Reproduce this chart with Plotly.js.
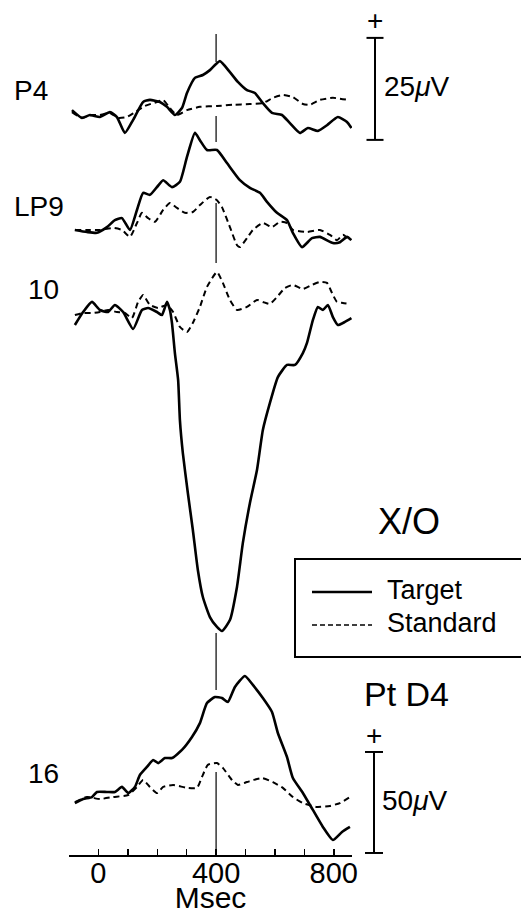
<!DOCTYPE html>
<html>
<head>
<meta charset="utf-8">
<script src="https://cdn.plot.ly/plotly-3.0.1.min.js"></script>
<style>html,body{margin:0;padding:0;background:#fff;}#chart{width:521px;height:914px;}</style>
</head>
<body>
<div id="chart"></div>
<script>
// ---------- DATA (time in ms, amplitude in µV relative to baseline) ----------
const channelNames = ["P4", "LP9", "10", "16"];

const p4TargetMs = [-90,-56,-29,5,39,63,90,118,152,175,209,233,260,284,301,328,355,379,413,447,474,505,532,559,590,624,651,685,712,746,777,814,845,860];
const p4TargetUv = [1.2,-0.7,0,-0.5,0.7,-0.5,-4.4,-1.2,3.2,3.7,3.2,2.0,0,1.7,5.4,9.1,9.8,11.0,13.2,10.5,8.1,6.1,5.4,2.9,0.5,0,-2.0,-4.4,-3.2,-3.9,-2.5,-0.5,-1.7,-3.2];
const p4StandardMs = [-90,-56,-22,5,39,67,97,124,158,199,220,243,267,301,345,403,457,515,559,593,627,661,695,719,753,797,848];
const p4StandardUv = [0.7,-0.7,0,0,0.5,-0.7,-0.5,0.7,2.2,3.2,3.7,1.7,0,1.2,2.0,2.2,2.5,2.7,2.9,4.2,4.9,4.4,2.7,2.5,3.7,4.2,3.7];

const lp9TargetMs = [-80,-39,-5,29,56,80,107,131,152,175,199,220,250,277,301,328,345,369,403,437,481,515,549,573,607,641,661,692,726,753,797,821,845,860];
const lp9TargetUv = [0.5,0,-0.2,1.2,2.9,3.4,0.5,5.4,9.6,9.1,11.0,12.7,11.0,12.3,18.4,24.3,22.5,20.1,20.1,16.9,12.7,10.8,9.6,7.4,4.7,2.9,-0.2,-3.7,-1.5,-1.2,-2.7,-2.5,-1.2,-2.0];
const lp9StandardMs = [-80,-39,5,50,80,107,131,148,169,192,220,243,267,294,321,345,379,403,420,447,471,481,508,525,559,590,617,641,661,709,753,787,811,831,855];
const lp9StandardUv = [0.5,0.5,0.5,1.0,0.5,-1.2,2.2,4.7,3.4,2.5,5.4,7.1,5.9,4.7,4.9,6.6,8.6,7.8,6.1,1.2,-3.2,-3.7,-1.2,0.5,2.2,1.2,2.5,2.2,0.5,0,0.5,-0.7,-2.0,-0.7,-2.0];

const c10TargetMs = [-80,-52,-22,5,33,56,84,118,148,169,199,216,233,243,250,260,271,277,287,304,321,338,355,379,403,420,447,471,491,515,539,559,583,610,641,668,695,709,729,746,763,780,797,814,838,860];
const c10TargetUv = [-7.4,-1.0,4.0,0,-1.0,2.5,-1.0,-9.4,0,1.0,-1.0,-2.5,4.0,0,-6.4,-21.3,-34.7,-54.5,-70.8,-90.6,-108.9,-128.7,-142.1,-152.0,-156.9,-158.9,-153.5,-137.1,-115.3,-95.5,-79.2,-59.4,-46.0,-33.2,-27.2,-27.2,-21.3,-16.3,-5.0,1.5,0,2.5,-3.5,-7.4,-5.9,-4.0];
const c10StandardMs = [-80,-52,-18,5,33,63,90,114,135,152,175,203,233,254,277,301,321,345,369,403,423,447,471,505,539,559,583,607,634,661,695,726,753,777,794,811,831,855];
const c10StandardUv = [-2.5,-1.5,-1.5,-1.0,0,-1.0,-1.5,-4.0,4.0,7.4,2.5,1.0,2.5,-1.0,-8.4,-10.9,-6.4,1.5,11.4,18.8,13.4,5.0,0,1.5,5.0,4.0,3.0,6.4,10.9,12.4,10.4,12.4,13.9,13.4,8.4,4.0,3.5,3.0];

const c16TargetMs = [-80,-52,-22,-5,29,56,80,101,124,141,165,186,203,226,250,284,318,345,369,396,420,440,464,498,525,559,590,610,641,661,695,729,763,797,828,855];
const c16TargetUv = [-4.0,-2.0,-1.0,1.5,1.5,1.5,4.0,1.0,4.0,9.9,13.9,17.3,15.8,18.3,18.3,22.3,28.7,35.6,45.5,48.5,48.0,46.0,53.5,58.9,54.5,48.0,41.1,30.7,18.8,8.4,1.0,-7.4,-15.8,-22.3,-18.3,-15.8];
const c16StandardMs = [-80,-39,5,50,101,131,152,175,199,220,254,301,335,352,372,403,423,454,474,505,556,593,627,661,695,743,787,821,855];
const c16StandardUv = [-3.5,-1.0,-2.0,-1.0,0,4.0,7.4,4.0,1.0,4.0,5.0,3.5,3.5,8.9,14.9,15.8,13.4,7.4,5.0,6.4,8.4,6.4,3.5,-1.0,-4.0,-5.9,-5.4,-4.0,-1.0];

const tickValues = [-100,0,100,200,300,400,500,600,700,800];
const tickLabels = ["","0","","","","400","","","","800"];
const seriesNames = ["Target", "Standard"];

// ---------- LAYOUT HELPERS ----------
const W = 521, H = 914, ML = 69, MR = 169, MT = 0, MB = 59;
const PW = W - ML - MR, PH = H - MT - MB;
const px = p => (p - ML) / PW;          // pixel x -> paper x
const py = p => (PH + MT - p) / PH;     // pixel y -> paper y
const FONT = "Liberation Sans, Arial, Helvetica, sans-serif";

// channel baseline pixel & gain (px per µV) -> y-axis range
const chan = [
  {base: 115, gain: 4.08},  // P4   (25 µV scale)
  {base: 232, gain: 4.08},  // LP9
  {base: 310, gain: 2.02},  // 10   (50 µV scale)
  {base: 795, gain: 2.02}   // 16
];
const yRange = c => [(c.base - (MT + PH)) / c.gain, (c.base - MT) / c.gain];

const solid = {color: "#000", width: 2.6, shape: "spline", smoothing: 0.5};
const dashed = {color: "#000", width: 2, dash: "6px,4px", shape: "spline", smoothing: 0.5};

const pairs = [
  [p4TargetMs, p4TargetUv, p4StandardMs, p4StandardUv, "y"],
  [lp9TargetMs, lp9TargetUv, lp9StandardMs, lp9StandardUv, "y2"],
  [c10TargetMs, c10TargetUv, c10StandardMs, c10StandardUv, "y3"],
  [c16TargetMs, c16TargetUv, c16StandardMs, c16StandardUv, "y4"]
];
const traces = [];
pairs.forEach((p, i) => {
  traces.push({x: p[2], y: p[3], yaxis: p[4], xaxis: "x", type: "scatter", mode: "lines",
               name: seriesNames[1] + " " + channelNames[i], line: dashed, hoverinfo: "skip"});
  traces.push({x: p[0], y: p[1], yaxis: p[4], xaxis: "x", type: "scatter", mode: "lines",
               name: seriesNames[0] + " " + channelNames[i], line: solid, hoverinfo: "skip"});
});

const hidden = r => ({range: r, visible: false, fixedrange: true, domain: [0, 1]});
const layout = {
  width: W, height: H,
  margin: {l: ML, r: MR, t: MT, b: MB, pad: 0},
  paper_bgcolor: "#fff", plot_bgcolor: "#fff",
  showlegend: false,
  font: {family: FONT, color: "#000"},
  xaxis: {
    range: [-100, 862], showline: true, linewidth: 2, linecolor: "#000",
    ticks: "inside", ticklen: 6, tickwidth: 1.5, tickcolor: "#000",
    tickmode: "array", tickvals: tickValues, ticktext: tickLabels,
    tickfont: {family: FONT, size: 29, color: "#000"},
    ticklabelstandoff: -9,
    showgrid: false, zeroline: false, fixedrange: true, anchor: "y",
    title: {text: "Msec", font: {family: FONT, size: 30, color: "#000"}, standoff: 2}
  },
  yaxis: hidden(yRange(chan[0])),
  yaxis2: Object.assign(hidden(yRange(chan[1])), {overlaying: "y"}),
  yaxis3: Object.assign(hidden(yRange(chan[2])), {overlaying: "y"}),
  yaxis4: Object.assign(hidden(yRange(chan[3])), {overlaying: "y"}),
  shapes: [],
  annotations: []
};

// 400 ms marker segments (drawn per channel)
[["y", 13.0, 19.85], ["y", -6.6, -0.25], ["y2", -7.6, 7.1], ["y3", -188.1, -159.9], ["y4", -29.2, 11.4]]
  .forEach(s => layout.shapes.push({type: "line", xref: "x", yref: s[0], x0: 400, x1: 400, y0: s[1], y1: s[2],
                                    line: {color: "#000", width: 1.2}, layer: "below"}));

// calibration bars
function calBar(yref, xPix, v0, v1, capHalf) {
  layout.shapes.push({type: "line", xref: "paper", yref: yref, x0: px(xPix), x1: px(xPix), y0: v0, y1: v1, line: {color: "#000", width: 2}});
  layout.shapes.push({type: "line", xref: "paper", yref: yref, x0: px(xPix - capHalf), x1: px(xPix + capHalf), y0: v0, y1: v0, line: {color: "#000", width: 2}});
  layout.shapes.push({type: "line", xref: "paper", yref: yref, x0: px(xPix - capHalf), x1: px(xPix + capHalf), y0: v1, y1: v1, line: {color: "#000", width: 2}});
}
calBar("y", 375, -6.1, 18.9, 8.5);
calBar("y4", 374, -28.7, 21.3, 9);

function txt(text, xPix, yPix, size, xanchor) {
  layout.annotations.push({text: text, xref: "paper", yref: "paper", x: px(xPix), y: py(yPix),
    xanchor: xanchor || "left", yanchor: "middle", showarrow: false,
    font: {family: FONT, size: size, color: "#000"}});
}
txt(channelNames[0], 12, 90, 28);
txt(channelNames[1], 12, 207, 28);
txt(channelNames[2], 26, 289, 28);
txt(channelNames[3], 26, 773, 28);
txt("+", 375, 21, 28, "center");
txt("+", 374, 735, 28, "center");
txt("25<i>μ</i>V", 382, 87, 28);
txt("50<i>μ</i>V", 380, 800, 28);
txt("X/O", 409, 521, 36, "center");
txt("Pt D4", 406, 694, 34, "center");

// legend (drawn manually to match long line samples)
layout.shapes.push({type: "rect", xref: "paper", yref: "paper", x0: px(295), x1: px(535), y0: py(657), y1: py(559),
                    line: {color: "#000", width: 2}, fillcolor: "rgba(0,0,0,0)"});
layout.shapes.push({type: "line", xref: "paper", yref: "paper", x0: px(312), x1: px(372), y0: py(592), y1: py(592), line: {color: "#000", width: 2.6}});
layout.shapes.push({type: "line", xref: "paper", yref: "paper", x0: px(312), x1: px(372), y0: py(625), y1: py(625), line: {color: "#000", width: 1.5, dash: "5px,3px"}});
txt(seriesNames[0], 385, 590, 27);
txt(seriesNames[1], 385, 623, 27);

Plotly.newPlot("chart", traces, layout, {staticPlot: true, displayModeBar: false});
</script>
</body>
</html>
